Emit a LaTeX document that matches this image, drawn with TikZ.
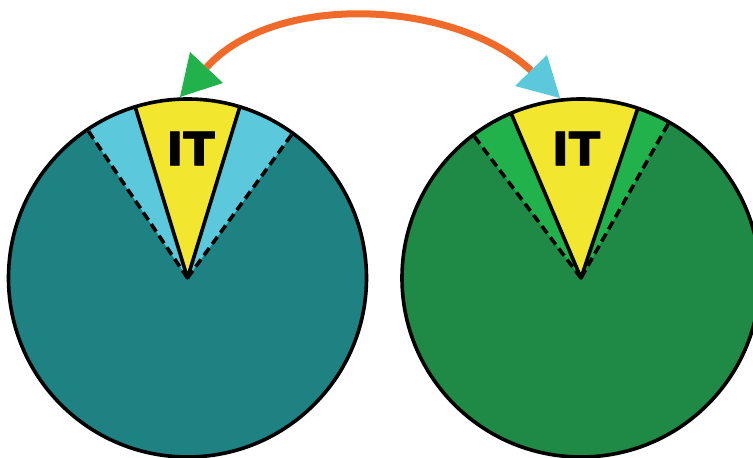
\documentclass[tikz,border=0pt]{standalone}
\usepackage{fontspec}
\usetikzlibrary{calc}
\newfontfamily\labelfont{DejaVu Sans}[BoldFeatures={FakeBold=2}]
\definecolor{tealdark}{HTML}{1E8283}
\definecolor{lightblue}{HTML}{5CC8DC}
\definecolor{greendark}{HTML}{1E8A46}
\definecolor{greenlight}{HTML}{22B24C}
\definecolor{ityellow}{HTML}{F2E72E}
\definecolor{arcorange}{HTML}{F06A2A}
\tikzset{
  outline/.style={draw=black,line width=3.6pt},
  dashline/.style={draw=black,line width=3.6pt,dash pattern=on 9pt off 5pt},
  wedgeedge/.style={draw=black,line width=3.6pt,line join=round},
  itlabel/.style={inner sep=0pt,font=\labelfont\bfseries\fontsize{46}{46}\selectfont,text=black},
  arcline/.style={draw=arcorange,line width=7pt}
}
\begin{document}
\begin{tikzpicture}[x=1pt,y=1pt]
\useasboundingbox (0,0) rectangle (753,458);
\clip (0,0) rectangle (753,458);
\fill[white] (0,0) rectangle (753,458);
\coordinate (L) at (187.5,180);
\coordinate (R) at (581,180);
% left circle
\fill[tealdark] (L) circle (179);
\fill[lightblue] (L) -- ++(54:179) arc (54:124:179) -- cycle;
\draw[dashline] (L) -- ++(54:179);
\draw[dashline] (L) -- ++(124:179);
\fill[ityellow] (L) -- ++(73:179) arc (73:107:179) -- cycle;
\draw[wedgeedge] ($(L)+(73:179)$) -- (L) -- ($(L)+(107:179)$);
\draw[outline] (L) circle (179);
\node[itlabel] (itL) at (190.5,309.5) {IT};
% right circle
\fill[greendark] (R) circle (179);
\fill[greenlight] (R) -- ++(60.5:179) arc (60.5:127:179) -- cycle;
\draw[dashline] (R) -- ++(60.5:179);
\draw[dashline] (R) -- ++(127:179);
\fill[ityellow] (R) -- ++(71.5:179) arc (71.5:113:179) -- cycle;
\draw[wedgeedge] ($(R)+(71.5:179)$) -- (R) -- ($(R)+(113:179)$);
\draw[outline] (R) circle (179);
\node[itlabel] (itR) at (576,309.5) {IT};
% arrow
\coordinate (aS) at (206.5,390.5);
\coordinate (aE) at (531,387.5);
\draw[arcline] (aS) .. controls (275,467) and (456,458) .. (aE);
\coordinate (gTip) at (180,361);
\fill[greenlight] (gTip) -- (190,406) -- (223,375) -- cycle;
\coordinate (bTip) at (560,360);
\fill[lightblue] (bTip) -- (515,372) -- (547,403) -- cycle;
\end{tikzpicture}
\end{document}
